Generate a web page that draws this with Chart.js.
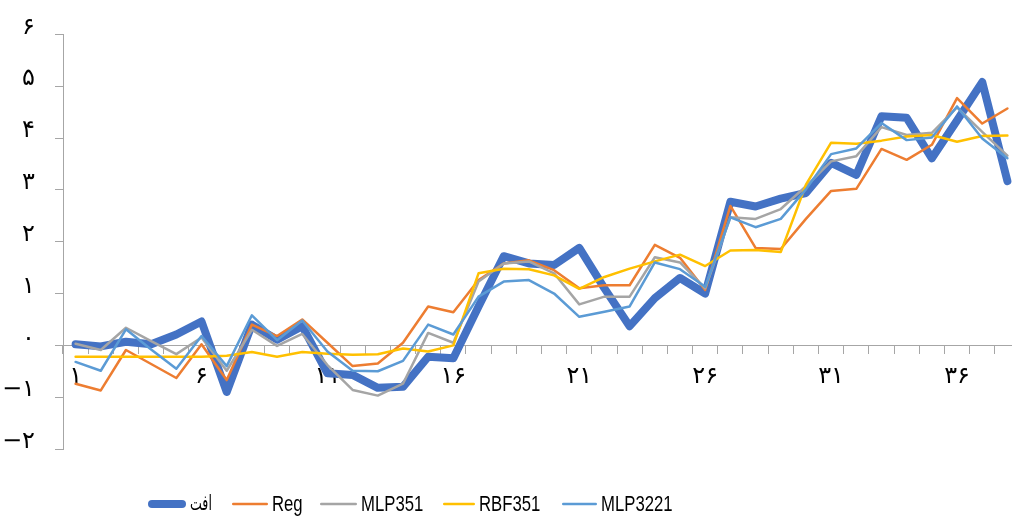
<!DOCTYPE html>
<html>
<head>
<meta charset="utf-8">
<script src="https://cdn.jsdelivr.net/npm/chart.js@4.4.1/dist/chart.umd.min.js"></script>
<style>
  html, body { margin: 0; padding: 0; background: #fff; overflow: hidden; }
  #wrap { width: 1024px; height: 518px; }
</style>
</head>
<body>
<div id="wrap"><canvas id="c" width="1024" height="518"></canvas></div>
<script>
// Observation index 1..38
const categories = ['۱','۲','۳','۴','۵','۶','۷','۸','۹','۱۰','۱۱','۱۲','۱۳','۱۴','۱۵','۱۶','۱۷','۱۸','۱۹','۲۰',
  '۲۱','۲۲','۲۳','۲۴','۲۵','۲۶','۲۷','۲۸','۲۹','۳۰','۳۱','۳۲','۳۳','۳۴','۳۵','۳۶','۳۷','۳۸'];

// Measured drawdown
const seriesActual = [0.02,-0.02,0.07,0.02,0.21,0.46,-0.90,0.40,0.11,0.37,-0.54,-0.57,-0.82,-0.80,-0.22,-0.25,0.75,1.72,1.58,1.55,
  1.88,1.10,0.37,0.91,1.30,1.00,2.77,2.68,2.83,2.94,3.52,3.29,4.42,4.39,3.61,4.34,5.08,3.17];
// Regression model
const seriesReg = [-0.74,-0.87,-0.09,-0.36,-0.63,0.02,-0.67,0.40,0.18,0.50,0.05,-0.40,-0.35,0.05,0.75,0.64,1.26,1.58,1.64,1.45,
  1.10,1.16,1.16,1.94,1.69,1.07,2.69,1.88,1.86,2.44,2.98,3.02,3.79,3.58,3.87,4.77,4.28,4.57];
// MLP 3-5-1
const seriesMLP351 = [0.03,-0.09,0.34,0.08,-0.17,0.15,-0.49,0.30,-0.01,0.22,-0.38,-0.86,-0.97,-0.74,0.24,0.05,1.23,1.58,1.62,1.39,
  0.79,0.94,0.94,1.70,1.60,1.10,2.47,2.44,2.63,3.07,3.55,3.65,4.21,4.06,4.10,4.59,4.12,3.66];
// RBF 3-5-1
const seriesRBF351 = [-0.22,-0.22,-0.22,-0.22,-0.22,-0.22,-0.20,-0.13,-0.22,-0.13,-0.16,-0.18,-0.17,-0.06,-0.12,0.00,1.39,1.48,1.47,1.35,
  1.09,1.32,1.48,1.62,1.75,1.53,1.83,1.84,1.80,3.10,3.91,3.89,3.95,4.03,4.06,3.93,4.04,4.05];
// MLP 3-2-2-1
const seriesMLP3221 = [-0.32,-0.49,0.31,-0.08,-0.45,0.18,-0.40,0.58,0.10,0.48,-0.12,-0.49,-0.50,-0.30,0.40,0.21,0.94,1.23,1.26,1.00,
  0.55,0.65,0.75,1.60,1.47,1.13,2.47,2.28,2.44,3.01,3.69,3.80,4.29,3.96,4.01,4.61,3.99,3.61];

const seriesNames = ['افت','Reg','MLP351','RBF351','MLP3221'];
const yTickLabels = {'-2':'−۲','-1':'−۱','0':'۰','1':'۱','2':'۲','3':'۳','4':'۴','5':'۵','6':'۶'};

const colors = ['#4472C4','#ED7D31','#A5A5A5','#FFC000','#5B9BD5'];
const widths = [8, 2.5, 2.5, 2.5, 2.5];
const allSeries = [seriesActual, seriesReg, seriesMLP351, seriesRBF351, seriesMLP3221];

const digitFont = '"DejaVu Sans", sans-serif';
const legendFont = '"Liberation Sans", Arial, sans-serif';

// Legend under the plot: a line sample followed by the series name.
// Latin names are drawn slightly condensed; the Persian name uses DejaVu Sans.
const legendLineX = [148, 232, 320, 443, 562];
const legendTextX = [190, 272, 361, 479, 601];
const bottomLegend = {
  id: 'bottomLegend',
  afterDraw(chart) {
    const ctx = chart.ctx;
    const y = 504;
    chart.data.datasets.forEach((ds, i) => {
      const x0 = legendLineX[i];
      const x1 = legendTextX[i] - 4;
      ctx.save();
      ctx.strokeStyle = ds.borderColor;
      ctx.lineWidth = ds.borderWidth;
      ctx.lineCap = 'round';
      ctx.beginPath();
      ctx.moveTo(x0 + ds.borderWidth / 2, y);
      ctx.lineTo(x1 - ds.borderWidth / 2, y);
      ctx.stroke();
      ctx.restore();

      ctx.save();
      ctx.fillStyle = '#000';
      ctx.textBaseline = 'middle';
      ctx.textAlign = 'left';
      if (i === 0) {
        ctx.font = '21px ' + digitFont;
        ctx.translate(legendTextX[i], y + 1);
        ctx.scale(0.6, 1);
      } else {
        ctx.font = '22px ' + legendFont;
        ctx.translate(legendTextX[i], y + 1);
        ctx.scale(0.76, 1);
      }
      ctx.fillText(ds.label, 0, 0);
      ctx.restore();
    });
  }
};

new Chart(document.getElementById('c'), {
  type: 'line',
  data: {
    labels: categories,
    datasets: allSeries.map((vals, i) => ({
      label: seriesNames[i],
      data: vals,
      borderColor: colors[i],
      backgroundColor: colors[i],
      borderWidth: widths[i],
      pointRadius: 0,
      tension: 0,
      fill: false,
      borderCapStyle: 'round',
      borderJoinStyle: 'round',
      order: 5 - i
    }))
  },
  options: {
    responsive: false,
    animation: false,
    layout: { padding: { left: 0, right: 4, top: 30, bottom: 69 } },
    plugins: { legend: { display: false }, tooltip: { enabled: false } },
    scales: {
      x: {
        type: 'category',
        position: { y: 0 },
        offset: true,
        grid: { display: true, offset: true, drawOnChartArea: false, drawTicks: true, tickLength: 8, color: '#a6a6a6', lineWidth: 1 },
        border: { display: true, color: '#a6a6a6', width: 1 },
        ticks: {
          autoSkip: false,
          maxRotation: 0,
          padding: 9,
          color: '#000',
          font: { family: digitFont, size: 24 },
          callback: (v, i) => (i % 5 === 0 ? categories[i] : '')
        }
      },
      y: {
        min: -2,
        max: 6,
        afterFit: (s) => { s.width = 63; },
        grid: { display: true, drawOnChartArea: false, drawTicks: true, tickLength: 8, color: '#a6a6a6', lineWidth: 1 },
        border: { display: true, color: '#a6a6a6', width: 1 },
        ticks: {
          stepSize: 1,
          padding: 20,
          labelOffset: -7,
          color: '#000',
          font: { family: digitFont, size: 24 },
          callback: (v) => yTickLabels[String(v)]
        }
      }
    }
  },
  plugins: [bottomLegend]
});
</script>
</body>
</html>
